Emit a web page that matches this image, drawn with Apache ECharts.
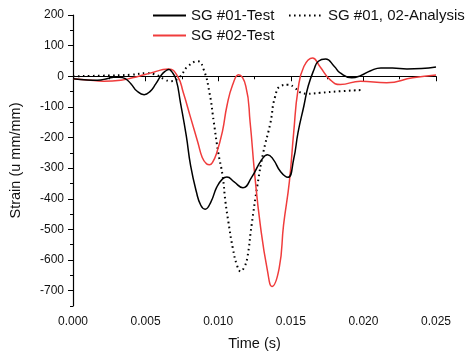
<!DOCTYPE html>
<html>
<head>
<meta charset="utf-8">
<script src="https://cdn.jsdelivr.net/npm/echarts@6/dist/echarts.min.js"></script>
<style>
html,body{margin:0;padding:0;background:#fff;}
#c{width:466px;height:356px;}
</style>
</head>
<body>
<div id="c"></div>
<script>
// ---- Data (time in s, strain in u mm/mm) ----
var sg01TestTime = [0.0000,0.0010,0.0017,0.0024,0.0028,0.0032,0.0036,0.0040,0.0044,0.0049,0.0053,0.0057,0.0061,0.0064,0.0066,0.0068,0.0071,0.0074,0.0078,0.0081,0.0085,0.0088,0.0091,0.0095,0.0099,0.0103,0.0106,0.0111,0.0117,0.0123,0.0130,0.0134,0.0138,0.0143,0.0148,0.0152,0.0155,0.0159,0.0162,0.0166,0.0169,0.0174,0.0180,0.0184,0.0192,0.0198,0.0205,0.0212,0.0220,0.0230,0.0240,0.0250];
var sg01TestStrain = [-8,-12,-13,-7,-3,-3,-8,-25,-48,-60,-50,-25,5,18,22,15,-11,-86,-194,-292,-378,-421,-434,-410,-362,-335,-329,-345,-364,-330,-272,-256,-272,-312,-330,-270,-183,-97,-32,22,49,56,32,11,-5,2,18,27,27,24,25,30];

var sg02TestTime = [0.0000,0.0010,0.0021,0.0033,0.0041,0.0049,0.0056,0.0062,0.0066,0.0072,0.0076,0.0081,0.0086,0.0089,0.0092,0.0094,0.0096,0.0099,0.0103,0.0106,0.0110,0.0114,0.0119,0.0122,0.0125,0.0129,0.0134,0.0137,0.0142,0.0145,0.0149,0.0152,0.0155,0.0159,0.0165,0.0170,0.0177,0.0184,0.0198,0.0216,0.0234,0.0250];
var sg02TestStrain = [-8,-12,-16,-13,-5,5,14,22,24,0,-54,-135,-216,-265,-286,-289,-282,-250,-178,-97,-27,5,-32,-151,-313,-486,-637,-686,-626,-486,-345,-183,-43,32,60,32,-11,-27,-16,-21,-5,4];

var analysisTime = [0.0000,0.0021,0.0040,0.0051,0.0058,0.0063,0.0067,0.0073,0.0079,0.0086,0.0090,0.0094,0.0097,0.0100,0.0103,0.0105,0.0107,0.0110,0.0113,0.01155,0.0118,0.0120,0.0123,0.0127,0.0131,0.0136,0.0139,0.0143,0.0148,0.0153,0.0155,0.0161,0.0170,0.0184,0.0198];
var analysisStrain = [0,2,5,10,3,-10,-16,-5,32,49,22,-54,-151,-248,-324,-410,-475,-560,-618,-637,-622,-594,-486,-356,-250,-151,-70,-32,-28,-38,-49,-57,-54,-49,-45];

var seriesNames = ['SG #01-Test','SG #02-Test','SG #01, 02-Analysis'];
var yMajorTicks = [-700,-600,-500,-400,-300,-200,-100,0,100,200];

function pairs(t, v){ var out=[]; for(var i=0;i<t.length;i++) out.push([t[i], v[i]]); return out; }

var FONT = 'Liberation Sans, Arial, sans-serif';
var chart = echarts.init(document.getElementById('c'), null, {renderer:'canvas'});
chart.setOption({
  backgroundColor:'#fff',
  animation:false,
  textStyle:{fontFamily:FONT},
  grid:{left:72, right:30, top:15, bottom:48, containLabel:false},
  legend:[
    {data:[seriesNames[0], seriesNames[1]], orient:'vertical', left:152, top:8, padding:0,
     itemWidth:33, itemHeight:12, itemGap:5,
     itemStyle:{opacity:0},
     textStyle:{fontFamily:FONT, fontSize:15, color:'#111'}},
    {data:[seriesNames[2]], orient:'vertical', left:288, top:8, padding:0,
     itemWidth:34, itemHeight:12, itemGap:5,
     itemStyle:{opacity:0},
     textStyle:{fontFamily:FONT, fontSize:15, color:'#111'}}
  ],
  xAxis:{
    type:'value', min:0, max:0.025, interval:0.005,
    name:'Time (s)', nameLocation:'middle', nameGap:30,
    nameTextStyle:{fontFamily:FONT, fontSize:14.5, color:'#111'},
    axisLine:{show:true, lineStyle:{color:'#000', width:1.2}},
    axisTick:{show:true, inside:false, length:5, lineStyle:{color:'#000', width:1}},
    minorTick:{show:true, splitNumber:2, length:3, lineStyle:{color:'#000', width:1}},
    axisLabel:{fontFamily:FONT, fontSize:12, color:'#111', margin:10,
      formatter:function(v){ return v.toFixed(3); }},
    splitLine:{show:false}, minorSplitLine:{show:false}
  },
  yAxis:[
    {
      type:'value', min:-750, max:200,
      name:'Strain (u mm/mm)', nameLocation:'middle', nameGap:50, nameRotate:90,
      nameTextStyle:{fontFamily:FONT, fontSize:14.5, color:'#111'},
      axisLine:{show:true, onZero:false, lineStyle:{color:'#000', width:1.2}},
      axisTick:{show:true, length:5, customValues:yMajorTicks, lineStyle:{color:'#000', width:1}},
      axisLabel:{fontFamily:FONT, fontSize:12, color:'#111', margin:9, customValues:yMajorTicks},
      splitLine:{show:false}
    },
    {
      type:'value', min:-750, max:200, interval:50, position:'left',
      axisLine:{show:false}, axisLabel:{show:false},
      axisTick:{show:true, length:3, lineStyle:{color:'#000', width:1}},
      splitLine:{show:false}
    }
  ],
  series:[
    {name:seriesNames[0], type:'line', yAxisIndex:0, data:pairs(sg01TestTime, sg01TestStrain),
     smooth:0.5, symbol:'none', lineStyle:{color:'#000', width:1.5}, itemStyle:{color:'#000'}, z:3},
    {name:seriesNames[1], type:'line', yAxisIndex:0, data:pairs(sg02TestTime, sg02TestStrain),
     smooth:0.5, symbol:'none', lineStyle:{color:'#f03c3c', width:1.5}, itemStyle:{color:'#f03c3c'}, z:2},
    {name:seriesNames[2], type:'line', yAxisIndex:0, data:pairs(analysisTime, analysisStrain),
     smooth:0.5, symbol:'none', lineStyle:{color:'#000', width:2, type:[1.6,3.4]}, itemStyle:{color:'#000'}, z:1}
  ]
});
</script>
</body>
</html>
